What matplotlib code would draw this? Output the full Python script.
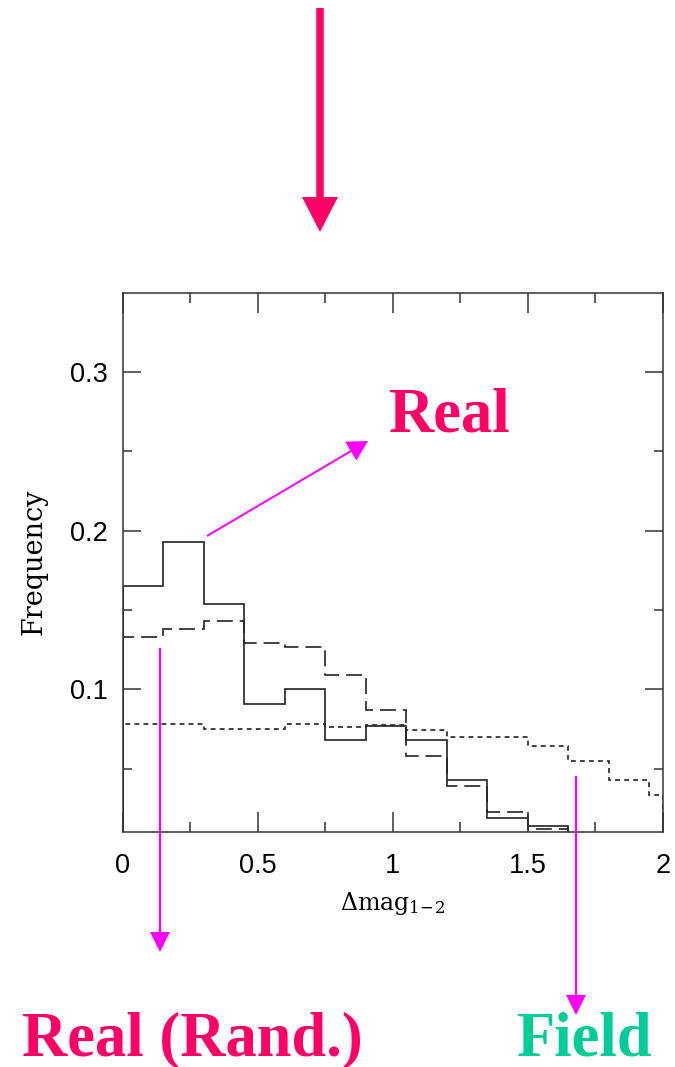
import matplotlib
matplotlib.use("Agg")
import matplotlib.pyplot as plt
from matplotlib.patches import FancyArrow

# bin edges of the three histograms
edges = [0, 0.15, 0.3, 0.45, 0.6, 0.75, 0.9, 1.05, 1.2, 1.35, 1.5, 1.65, 1.8, 1.95, 2.0]

# frequencies
real = [0.165, 0.193, 0.154, 0.091, 0.100, 0.068, 0.077, 0.068, 0.043, 0.019, 0.0137]
real_rand = [0.133, 0.138, 0.143, 0.129, 0.127, 0.109, 0.087, 0.058, 0.039, 0.023, 0.012]
field = [0.078, 0.078, 0.075, 0.075, 0.078, 0.076, 0.0776, 0.0744, 0.070, 0.070,
         0.064, 0.0549, 0.043, 0.0335]

xticks = [0, 0.5, 1, 1.5, 2]
xticklabels = ['0', '0.5', '1', '1.5', '2']
xminor = [0.25, 0.75, 1.25, 1.75]
yticks = [0.1, 0.2, 0.3]
yticklabels = ['0.1', '0.2', '0.3']
yminor = [0.05, 0.15, 0.25]

plt.rcParams['lines.scale_dashes'] = False
plt.rcParams['mathtext.fontset'] = 'dejavuserif'

W, H = 675, 1067
fig = plt.figure(figsize=(W / 100, H / 100), dpi=100)
ax = fig.add_axes([122.7 / W, (H - 831.7) / H, 540 / W, 539 / H])

line_col = '#222222'
ax.stairs(real, edges[:len(real) + 1], baseline=0, color=line_col, lw=1.2)
ax.stairs(real_rand, edges[:len(real_rand) + 1], baseline=0, color=line_col, lw=1.2,
          linestyle=(0, (11.5, 5)))
ax.stairs(field, edges[:len(field) + 1], baseline=0, color=line_col, lw=1.2,
          linestyle=(0, (3.5, 3)))

ax.set_xlim(0, 2)
ax.set_ylim(0.0103, 0.35)
ax.set_xticks(xticks, xticklabels)
ax.set_xticks(xminor, minor=True)
ax.set_yticks(yticks, yticklabels)
ax.set_yticks(yminor, minor=True)

for sp in ax.spines.values():
    sp.set_linewidth(1.1)
    sp.set_color('#333333')
ax.tick_params(which='both', direction='in', top=True, right=True, width=1.1,
               color='#333333')
ax.tick_params(axis='x', which='major', length=14.4, pad=15)
ax.tick_params(axis='x', which='minor', length=7.2)
ax.tick_params(axis='y', which='major', length=13, pad=11)
ax.tick_params(axis='y', which='minor', length=6.5)
for lab in ax.get_xticklabels() + ax.get_yticklabels():
    lab.set_fontfamily('Liberation Sans')
    lab.set_fontsize(19.5)

ax.set_xlabel(r'Δmag$_{1\!-\!2}$', fontfamily='DejaVu Serif', fontsize=17, labelpad=8)
ax.set_ylabel('Frequency', fontfamily='DejaVu Serif', fontsize=19.5, labelpad=16)

# overlay in pixel coordinates for the annotations
ov = fig.add_axes([0, 0, 1, 1], zorder=5)
ov.set_xlim(0, W)
ov.set_ylim(H, 0)
ov.axis('off')
ov.patch.set_alpha(0)

pink = '#FF0066'
magenta = '#FF00FF'
green = '#00CC99'

ov.add_patch(FancyArrow(320, 8, 0, 224, width=7.5, head_width=36, head_length=35,
                        length_includes_head=True, color=pink, lw=0))
ov.add_patch(FancyArrow(207, 536, 161, -95, width=2, head_width=22, head_length=20,
                        length_includes_head=True, color=magenta, lw=0))
ov.add_patch(FancyArrow(160, 648, 0, 304, width=2.2, head_width=20, head_length=20,
                        length_includes_head=True, color=magenta, lw=0))
ov.add_patch(FancyArrow(576, 776, 0, 239, width=2.2, head_width=20, head_length=20,
                        length_includes_head=True, color=magenta, lw=0))

tkw = dict(fontfamily='Liberation Serif', fontweight='bold', fontsize=45,
           ha='left', va='baseline')
ov.text(389, 432, 'Real', color=pink, **tkw)
ov.text(22, 1055, 'Real (Rand.)', color=pink, **tkw)
ov.text(517, 1055, 'Field', color=green, **tkw)

fig.savefig('out.png', dpi=100)
